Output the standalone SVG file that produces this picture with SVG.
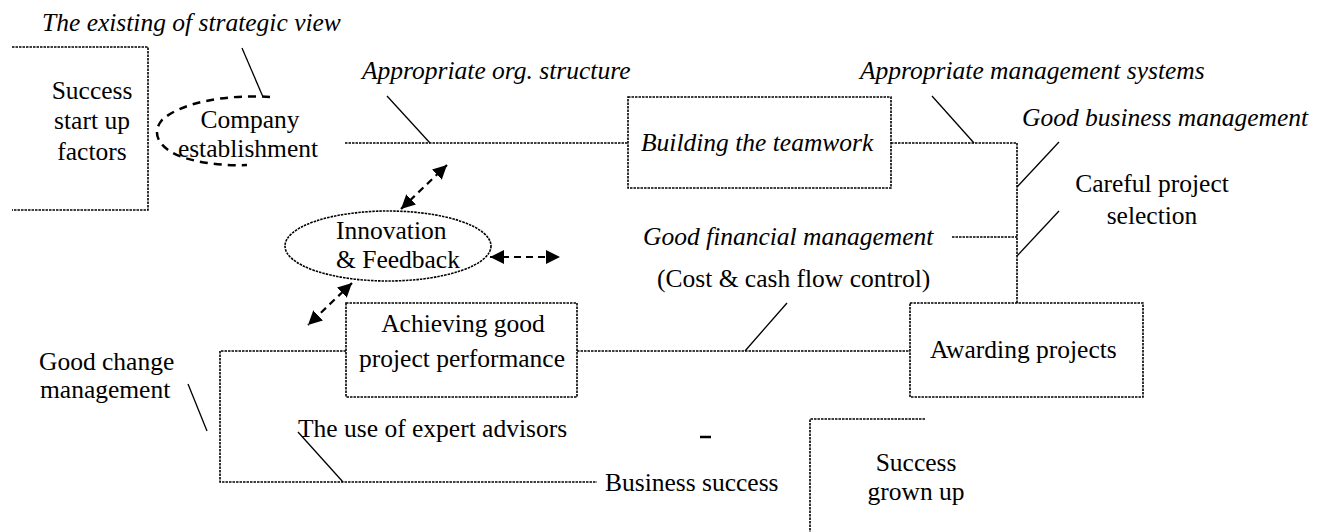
<svg xmlns="http://www.w3.org/2000/svg" width="1325" height="532" viewBox="0 0 1325 532">
  <style>
    text { font-family: "Liberation Serif", "Times New Roman", serif; font-size: 25.5px; fill: #000; }
    .it { font-style: italic; }
    .mid { text-anchor: middle; }
    .dot { fill: none; stroke: #000; stroke-width: 1.6; stroke-dasharray: 2.5 1; }
    .lead { fill: none; stroke: #000; stroke-width: 1.3; }
    .dash { fill: none; stroke: #000; stroke-width: 2.5; stroke-dasharray: 8 6; }
    .arrow { fill: none; stroke: #000; stroke-width: 2.2; stroke-dasharray: 7 5; marker-start: url(#head); marker-end: url(#head); }
  </style>
  <defs>
    <marker id="head" markerUnits="userSpaceOnUse" markerWidth="16" markerHeight="16" refX="14" refY="7" orient="auto-start-reverse">
      <path d="M0,0 L14,7 L0,14 z" fill="#000"/>
    </marker>
  </defs>
  <rect width="1325" height="532" fill="#fff"/>

  <!-- connectors -->
  <g id="connectors">
    <path class="dot" d="M345,143 H628"/>
    <path class="dot" d="M891,143 H1017 V303"/>
    <path class="dot" d="M952,237 H1017"/>
    <path class="dot" d="M577,351 H910"/>
    <path class="dot" d="M346,351 H220 V482 H597"/>
    <!-- leader lines -->
    <path class="lead" d="M242,48 L263,97"/>
    <path class="lead" d="M387,96 L430,143"/>
    <path class="lead" d="M932,96 L974,143"/>
    <path class="lead" d="M1059,142 L1017,187"/>
    <path class="lead" d="M1059,211 L1017,256"/>
    <path class="lead" d="M787,303 L745,351"/>
    <path class="lead" d="M188,384 L207,431"/>
    <path class="lead" d="M298,432 L343,482"/>
    <path d="M700,437 H711" stroke="#000" stroke-width="2.5"/>
    <!-- feedback arrows -->
    <path class="arrow" d="M401,209 L447,165"/>
    <path class="arrow" d="M490,257 L560,257"/>
    <path class="arrow" d="M352,283 L308,325"/>
  </g>

  <!-- labels -->
  <g id="labels">
    <text class="it" x="42" y="31">The existing of strategic view</text>
    <text class="it" x="362" y="79">Appropriate org. structure</text>
    <text class="it" x="860" y="79">Appropriate management systems</text>
    <text class="it" x="1022" y="126">Good business management</text>
    <text class="mid" x="1152" y="192">Careful project</text>
    <text class="mid" x="1152" y="224">selection</text>
    <text class="it" x="643" y="245">Good financial management</text>
    <text x="657" y="287">(Cost &amp; cash flow control)</text>
    <text x="39" y="370">Good change</text>
    <text x="40" y="398">management</text>
    <text x="298" y="437">The use of expert advisors</text>
  </g>

  <g id="success-start-up">
    <path class="dot" d="M12,47 H148 V210 H12"/>
    <text class="mid" x="92" y="99">Success</text>
    <text class="mid" x="92" y="129">start up</text>
    <text class="mid" x="92" y="160">factors</text>
  </g>

  <g id="company-establishment">
    <path class="dash" d="M270,97 C225,94 180,103 162,120 C150,134 160,150 185,158 C205,164 228,166 247,165"/>
    <text class="mid" x="250" y="128">Company</text>
    <text class="mid" x="248" y="157">establishment</text>
  </g>

  <g id="building-teamwork">
    <rect class="dot" x="628" y="97" width="263" height="91"/>
    <text class="it" x="641" y="151">Building the teamwork</text>
  </g>

  <g id="innovation-feedback">
    <ellipse class="dot" cx="388" cy="246" rx="103" ry="35"/>
    <text x="336" y="239">Innovation</text>
    <text x="336" y="268">&amp; Feedback</text>
  </g>

  <g id="achieving-performance">
    <rect class="dot" x="346" y="303" width="231" height="94"/>
    <text class="mid" x="463" y="332">Achieving good</text>
    <text class="mid" x="462" y="367">project performance</text>
  </g>

  <g id="awarding-projects">
    <rect class="dot" x="910" y="303" width="233" height="94"/>
    <text x="930" y="358">Awarding projects</text>
  </g>

  <g id="business-success">
    <text x="605" y="491">Business success</text>
  </g>

  <g id="success-grown-up">
    <path class="dot" d="M925,419 H810 V532"/>
    <text class="mid" x="916" y="471">Success</text>
    <text class="mid" x="916" y="500">grown up</text>
  </g>
</svg>
